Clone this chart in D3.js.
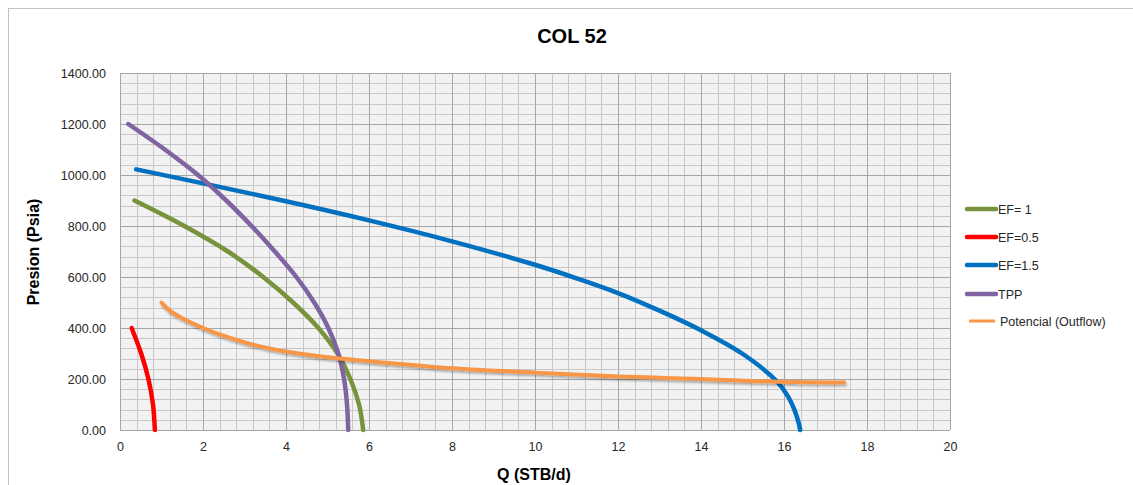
<!DOCTYPE html>
<html>
<head>
<meta charset="utf-8">
<script src="https://cdn.jsdelivr.net/npm/d3@7"></script>
<style>
  body { margin: 0; background: #fff; }
  text { font-family: "Liberation Sans", Arial, sans-serif; }
</style>
</head>
<body>
<svg width="1133" height="485"></svg>
<script>
// values: [Q (STB/d), P (psia)]
const ef1 = [[0.35, 900], [1.55, 800], [2.6, 700], [3.45, 600], [4.17, 500], [4.78, 400], [5.24, 300], [5.55, 200], [5.76, 100], [5.86, 0]]
const ef05 = [[0.28, 400], [0.51, 300], [0.685, 200], [0.795, 100], [0.84, 0]]
const ef15 = [[0.39, 1022], [2, 967], [4, 897], [6, 822], [8, 740], [10, 648], [11, 595], [12, 537], [13, 468], [14, 391], [15, 299], [15.82, 192], [16.1, 131], [16.25, 80], [16.35, 30], [16.39, 0]]
const tpp = [[0.2, 1200], [1.08, 1100], [1.88, 1000], [2.56, 900], [3.17, 800], [3.73, 700], [4.25, 600], [4.68, 500], [5.02, 400], [5.26, 300], [5.4, 200], [5.47, 100], [5.5, 0]]
const outflow = [[1.0, 500], [1.2, 468], [1.5, 438], [2.0, 400], [2.4, 375], [3.2, 335], [4.0, 308], [5.3, 280], [6.0, 270], [8.0, 242], [10.0, 225], [12.0, 210], [13.0, 205], [14.0, 200], [15.7, 190], [17.45, 186]]

const seriesNames = ["EF= 1", "EF=0.5", "EF=1.5", "TPP", "Potencial (Outflow)"]
const seriesData = [ef1, ef05, ef15, tpp, outflow]
const seriesColors = ["#77933c", "#ff0000", "#0070c0", "#8064a2", "#f79646"]

const xTicks = d3.range(0, 21, 2)
const yTicks = d3.range(0, 1401, 200)

var svg = d3.select("svg")

var x = d3.scaleLinear().domain([0, 20]).range([120, 950])
var y = d3.scaleLinear().domain([0, 1400]).range([430, 73])

var defs = svg.append("defs")
defs.append("filter")
    .attr("id", "shadow")
    .attr("x", "-5%").attr("y", "-20%").attr("width", "110%").attr("height", "160%")
    .append("feDropShadow")
    .attr("dx", 1).attr("dy", 2)
    .attr("stdDeviation", 1.2)
    .attr("flood-color", "#000")
    .attr("flood-opacity", 0.3)

// chart frame
svg.append("rect")
    .attr("x", 8.5).attr("y", 8.5)
    .attr("width", 1140).attr("height", 500)
    .attr("fill", "none")
    .attr("stroke", "#c3c3c3")

svg.append("text")
    .attr("x", 572).attr("y", 43)
    .attr("text-anchor", "middle")
    .attr("font-size", 20)
    .attr("font-weight", "bold")
    .attr("fill", "#000")
    .text("COL 52")

// plot area
svg.append("rect")
    .attr("x", x(0)).attr("y", y(1400))
    .attr("width", x(20) - x(0)).attr("height", y(0) - y(1400))
    .attr("fill", "#f2f2f2")

var grid = svg.append("g")
grid.selectAll("line.vminor")
    .data(d3.range(0, 20.001, 0.4))
    .join("line")
    .attr("x1", d => Math.round(x(d)) + 0.5).attr("x2", d => Math.round(x(d)) + 0.5)
    .attr("y1", y(1400)).attr("y2", y(0))
    .attr("stroke", "#c8c8c8")
grid.selectAll("line.hminor")
    .data(d3.range(0, 1400.1, 40))
    .join("line")
    .attr("y1", d => Math.round(y(d)) + 0.5).attr("y2", d => Math.round(y(d)) + 0.5)
    .attr("x1", x(0)).attr("x2", x(20))
    .attr("stroke", "#c8c8c8")
grid.selectAll("line.vmajor")
    .data(xTicks)
    .join("line")
    .attr("x1", d => Math.round(x(d)) + 0.5).attr("x2", d => Math.round(x(d)) + 0.5)
    .attr("y1", y(1400)).attr("y2", y(0))
    .attr("stroke", "#a6a6a6")
grid.selectAll("line.hmajor")
    .data(yTicks)
    .join("line")
    .attr("y1", d => Math.round(y(d)) + 0.5).attr("y2", d => Math.round(y(d)) + 0.5)
    .attr("x1", x(0)).attr("x2", x(20))
    .attr("stroke", "#a6a6a6")

// axes
var xAxis = svg.append("g")
    .attr("transform", `translate(0,${y(0)})`)
    .call(d3.axisBottom(x).tickValues(xTicks).tickSize(0).tickPadding(12).tickFormat(d3.format("d")))
var yAxis = svg.append("g")
    .attr("transform", `translate(${x(0)},0)`)
    .call(d3.axisLeft(y).tickValues(yTicks).tickSize(0).tickPadding(14).tickFormat(d3.format(".2f")))
svg.selectAll(".domain").remove()
svg.selectAll(".tick text")
    .attr("font-family", "Liberation Sans, Arial, sans-serif")
    .attr("font-size", 12.5)
    .attr("fill", "#262626")

svg.append("text")
    .attr("transform", "translate(39,252) rotate(-90)")
    .attr("text-anchor", "middle")
    .attr("font-size", 16)
    .attr("font-weight", "bold")
    .text("Presion (Psia)")

svg.append("text")
    .attr("x", 534).attr("y", 480)
    .attr("text-anchor", "middle")
    .attr("font-size", 16)
    .attr("font-weight", "bold")
    .text("Q (STB/d)")

// curves
var line = d3.line()
    .x(d => x(d[0]))
    .y(d => y(d[1]))
    .curve(d3.curveCatmullRom.alpha(0.5))

seriesData.forEach((data, i) => {
    svg.append("path")
        .datum(data)
        .attr("d", line)
        .attr("fill", "none")
        .attr("stroke", seriesColors[i])
        .attr("stroke-width", i == 4 ? 4 : 4.5)
        .attr("stroke-linecap", "round")
        .attr("stroke-linejoin", "round")
        .attr("filter", i == 4 ? "url(#shadow)" : null)
})

// legend
var legend = svg.append("g")
var legendY = [209, 237, 265, 294, 321]
seriesNames.forEach((name, i) => {
    var g = legend.append("g").attr("transform", `translate(0,${legendY[i]})`)
    g.append("line")
        .attr("x1", i == 4 ? 969 : 967).attr("x2", i == 4 ? 995 : 996)
        .attr("stroke", seriesColors[i])
        .attr("stroke-width", i == 4 ? 3 : 4.5)
        .attr("stroke-linecap", i == 4 ? "butt" : "round")
    g.append("text")
        .attr("x", i == 4 ? 1000 : 998)
        .attr("y", 4.5)
        .attr("font-size", 12.5)
        .attr("fill", "#262626")
        .text(name)
})
</script>
</body>
</html>
